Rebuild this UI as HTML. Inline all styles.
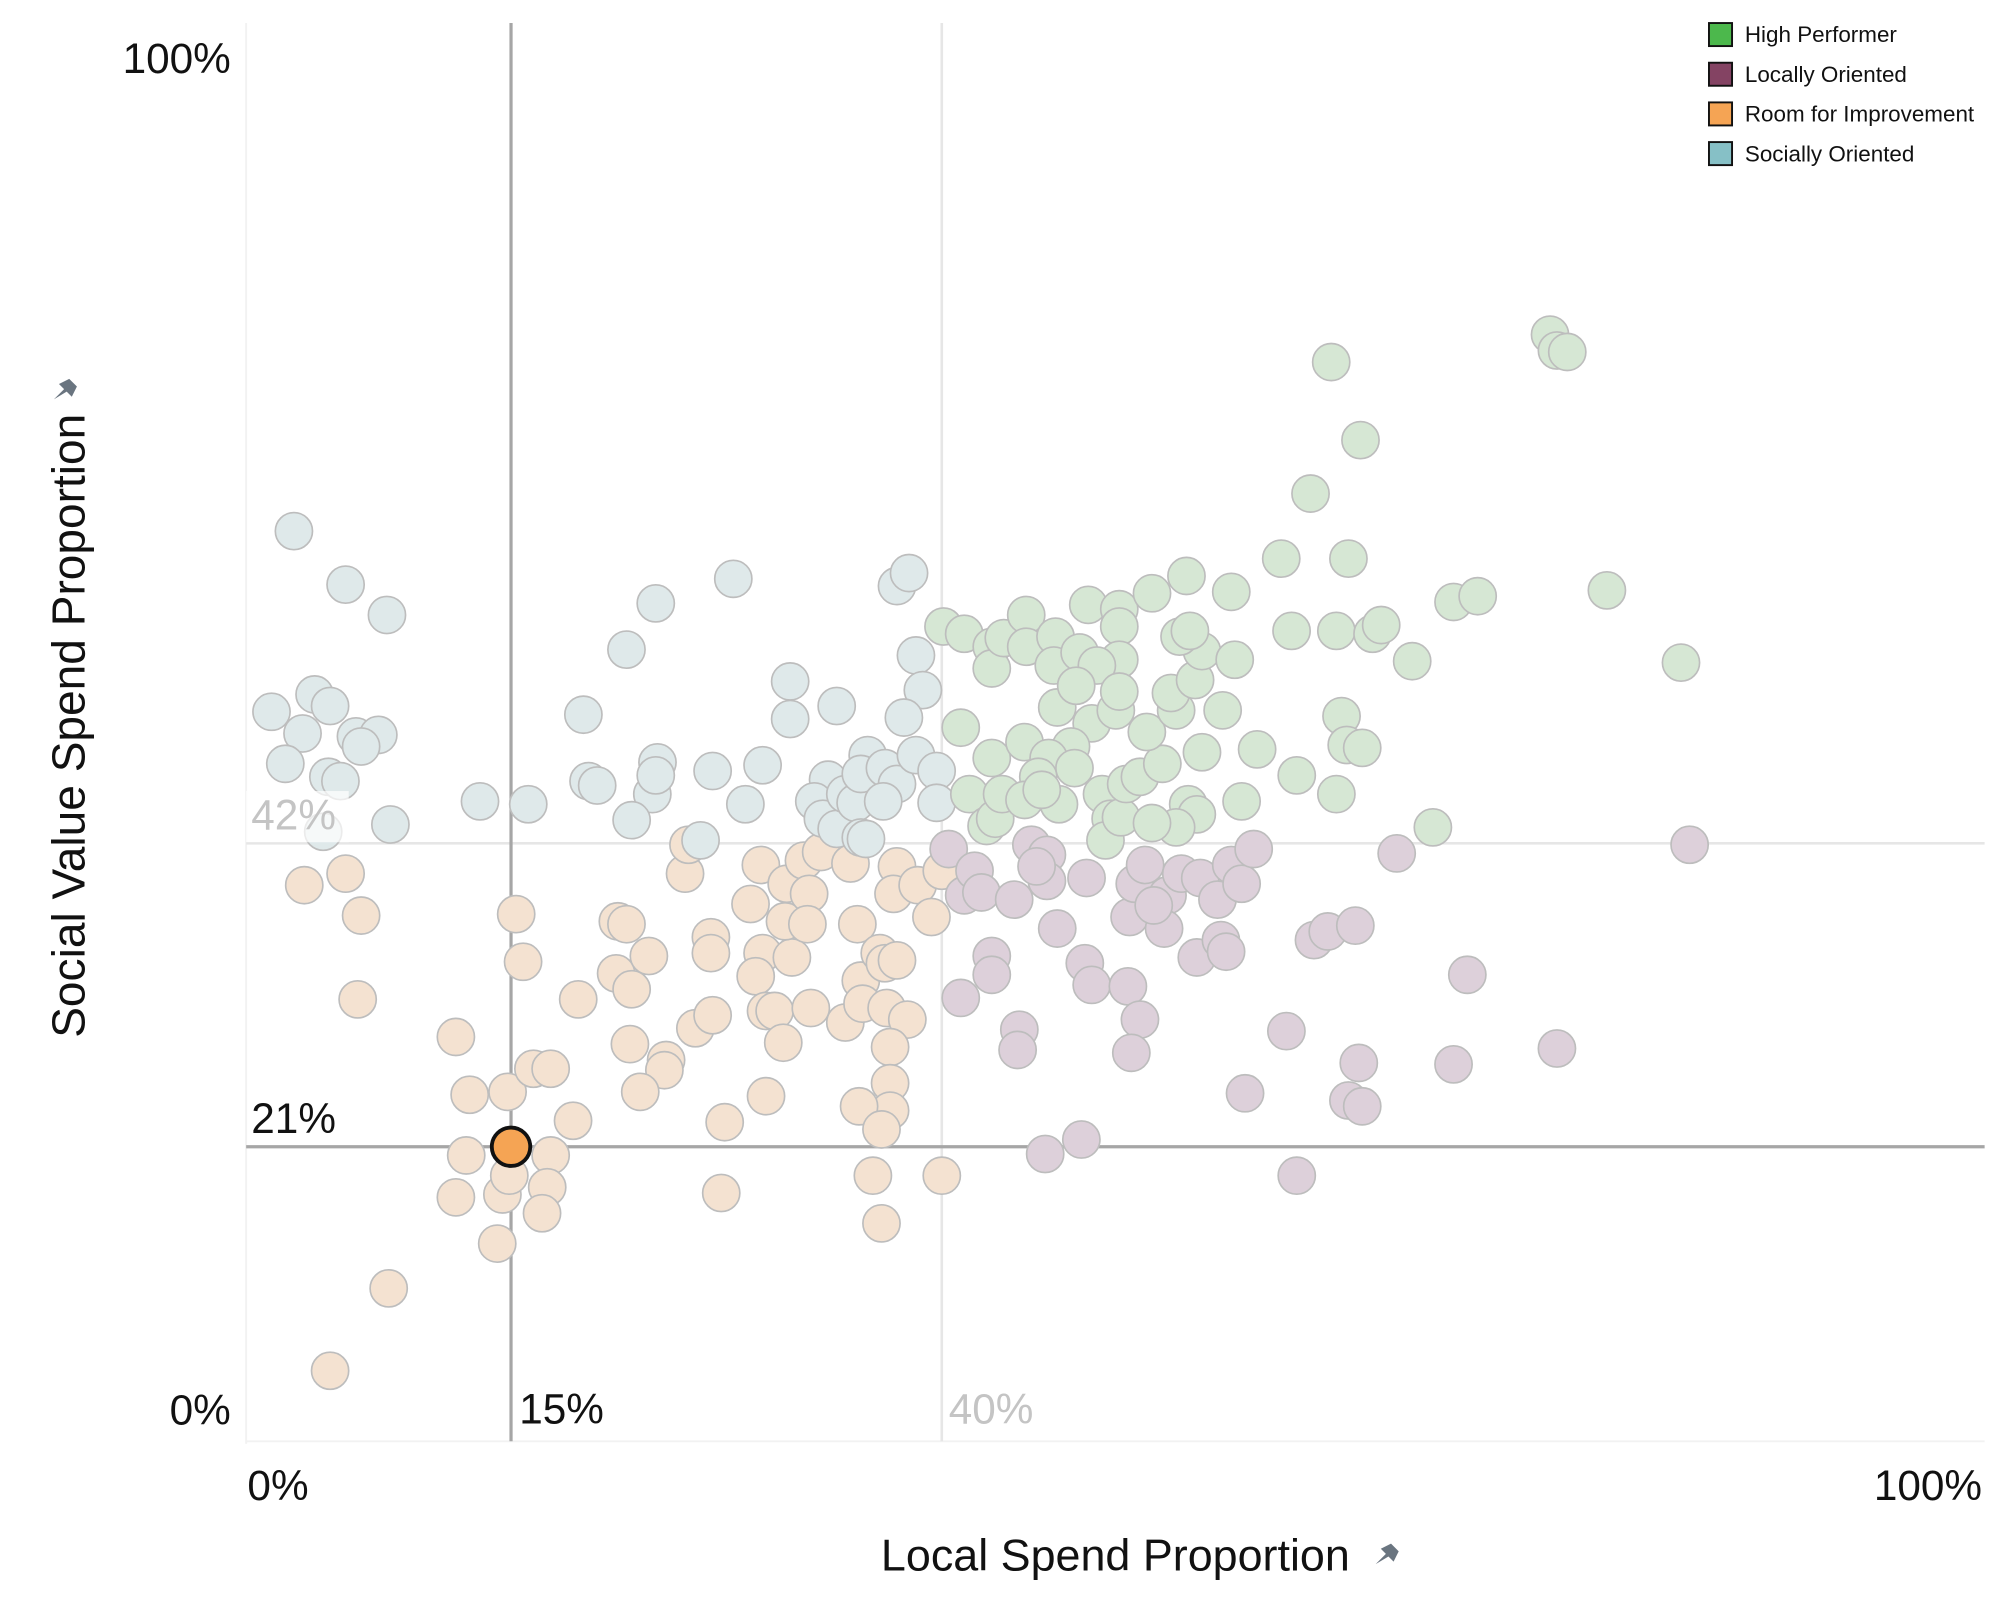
<!DOCTYPE html>
<html><head><meta charset="utf-8"><style>
html,body{margin:0;padding:0;background:#fff;width:2000px;height:1600px;overflow:hidden}
svg{display:block;font-family:"Liberation Sans",sans-serif}
</style></head><body>
<svg id="chart" width="2000" height="1600" viewBox="0 0 1560 1250" preserveAspectRatio="none" xmlns="http://www.w3.org/2000/svg">
<g id="grid"></g>
<g id="points"></g>
<g id="labels"></g>
<text x="870" y="1227" font-size="35" text-anchor="middle" fill="#111">Local Spend Proportion</text>
<path d="M1073 1222 l8 -8 l-4 -4 l8 -4 l6 6 l-4 8 l-4 -4 z" fill="#6a7580"/>
<text transform="translate(66,567) rotate(-90)" font-size="36" text-anchor="middle" fill="#111">Social Value Spend Proportion</text>
<path d="M42 312 l8 -8 l-4 -4 l8 -4 l6 6 l-4 8 l-4 -4 z" fill="#6a7580"/>
<g font-size="17.5" fill="#111">
 <rect x="1333" y="18" width="18" height="18" fill="#4cb84c" stroke="#111" stroke-width="1.5"/>
 <text x="1361" y="33">High Performer</text>
 <rect x="1333" y="49" width="18" height="18" fill="#844363" stroke="#111" stroke-width="1.5"/>
 <text x="1361" y="64">Locally Oriented</text>
 <rect x="1333" y="80" width="18" height="18" fill="#f5a454" stroke="#111" stroke-width="1.5"/>
 <text x="1361" y="95">Room for Improvement</text>
 <rect x="1333" y="111" width="18" height="18" fill="#86c0c6" stroke="#111" stroke-width="1.5"/>
 <text x="1361" y="126">Socially Oriented</text>
</g>
</svg>
<script>
const xThreshold = 15, yThreshold = 21, xMean = 40, yMean = 42;
const highlightX = 15, highlightY = 21;
const socialX = [2.4,5.4,7.8,1.1,3.6,4.5,2.9,6.0,7.3,6.3,1.9,4.4,5.1,4.1,8.0,13.2,16.0,19.2,19.5,20.0,21.7,23.4,23.2,23.5,23.4,22.0,27.9,26.7,28.6,29.6,31.2,31.2,33.9,33.4,32.6,33.1,33.9,34.4,35.0,35.7,35.3,36.7,37.4,37.4,38.1,38.5,38.9,37.8,38.5,39.7,39.7,36.6,35.3,26.0,35.6];
const socialY = [63.6,59.9,57.8,51.1,52.3,51.5,49.6,49.4,49.5,48.7,47.5,46.6,46.3,42.8,43.3,44.9,44.7,50.9,46.3,46.0,55.4,58.6,45.4,47.6,46.7,43.6,60.3,47.0,44.7,47.4,53.2,50.6,51.5,46.4,44.9,43.7,43.0,45.4,44.8,48.1,46.8,47.2,46.1,59.8,60.7,55.0,52.6,50.7,48.1,47.0,44.8,44.9,42.4,42.2,42.3];
const roomX = [3.0,5.4,6.3,6.1,7.9,4.5,11.8,12.6,12.4,11.8,14.2,14.5,14.8,15.3,15.7,16.3,17.3,17.3,17.1,16.8,14.9,18.6,18.9,21.2,21.7,21.1,22.0,23.0,21.9,24.0,23.9,22.5,25.1,25.3,25.7,26.7,26.6,26.6,27.4,27.2,28.9,29.5,29.6,29.2,29.8,30.3,31.3,30.9,31.0,32.0,32.3,32.2,32.4,30.8,29.8,33.0,34.4,34.7,35.1,35.3,35.4,36.4,36.7,36.8,37.4,37.2,38.0,38.6,39.4,40.0,37.0,37.0,37.0,35.2,36.5,36.0,36.5,40.0,37.4];
const roomY = [39.1,39.9,37.0,31.2,11.2,5.5,28.6,24.6,20.4,17.5,14.3,17.7,24.8,37.1,33.8,26.4,26.4,20.4,18.2,16.4,19.0,22.8,31.2,36.6,36.4,33.0,31.9,34.2,28.1,27.0,26.3,24.8,39.9,41.9,29.2,30.1,35.5,34.4,22.7,17.8,37.8,40.5,34.4,32.8,30.4,30.4,34.1,36.6,39.2,40.8,38.5,36.4,30.6,28.2,24.5,41.4,29.6,40.6,36.4,32.5,30.9,34.4,33.7,30.6,40.4,38.5,29.8,39.1,36.9,40.1,27.9,25.4,23.5,23.8,22.2,19.0,15.7,19.0,33.9];
const localX = [40.4,41.3,41.9,42.3,41.1,42.9,42.9,44.2,45.2,46.1,46.1,45.5,46.7,48.4,48.3,48.7,44.5,44.4,46.0,48.1,50.8,51.5,51.0,50.9,51.2,51.8,53.1,52.9,52.3,53.9,55.0,54.8,56.2,56.5,56.0,56.8,57.4,58.1,60.0,57.6,60.6,61.6,62.4,64.0,64.2,63.6,64.4,66.4,69.7,70.5,75.7,83.4];
const localY = [41.6,38.4,40.1,38.6,31.3,34.2,32.9,38.1,41.9,41.2,39.4,40.4,36.1,39.6,33.7,32.2,29.1,27.7,20.5,21.5,32.1,29.8,27.5,36.9,39.2,40.5,38.4,36.1,37.7,39.9,39.6,34.1,35.3,34.5,38.1,40.5,39.2,41.6,29.0,24.7,19.0,35.3,35.9,36.3,26.8,24.2,23.8,41.3,26.7,32.9,27.8,41.9];
const highX = [40.1,41.3,41.1,41.6,42.9,42.9,42.9,43.6,44.8,44.9,44.9,46.6,46.5,48.0,48.5,50.3,50.3,50.3,49.0,46.7,47.8,48.7,47.5,46.2,45.6,47.7,49.3,49.8,49.5,50.4,50.7,51.5,52.8,51.9,53.6,53.3,54.7,55.1,53.8,54.4,54.2,52.2,50.1,50.3,56.8,57.0,56.3,55.1,54.3,54.8,53.6,52.2,57.4,58.3,59.7,60.3,61.4,62.6,64.3,63.6,62.9,65.0,65.5,63.2,63.5,64.4,60.6,62.9,67.3,68.5,69.7,71.1,75.3,75.7,76.3,78.6,82.9,42.6,43.1,43.5,44.8,46.8,45.8];
const highY = [57.0,56.5,50.0,45.4,55.6,54.1,47.9,56.2,49.0,57.8,55.6,56.3,54.3,55.2,58.5,58.2,57.0,54.7,54.3,51.4,52.9,50.3,48.7,47.9,46.6,47.2,45.4,43.7,42.2,43.8,46.1,46.6,47.5,49.7,51.2,52.4,53.3,55.3,56.3,56.7,60.5,59.3,51.2,52.5,59.4,54.7,51.2,48.3,44.7,44.0,43.1,43.4,44.9,48.5,61.7,56.7,66.2,75.3,69.9,61.7,56.7,56.5,57.1,50.8,48.8,48.6,46.7,45.4,54.6,43.1,58.7,59.1,77.2,76.1,76.0,59.5,54.5,43.2,43.7,45.4,45.0,44.7,45.7];

const X0 = 197, XS = 13.44, Y0 = 1133, YS = 11.29;
function xPos(v){ return X0 + v * XS; }
function yPos(v){ return Y0 - v * YS; }
const NS = "http://www.w3.org/2000/svg";
function mk(tag, attrs){ const e = document.createElementNS(NS, tag); for (const k in attrs) e.setAttribute(k, attrs[k]); return e; }

const grid = document.getElementById('grid');
let l = mk('line', {x1:192,y1:18,x2:192,y2:1128,stroke:'#f2f2f2','stroke-width':1.5});


grid.appendChild(l);
l = mk('line', {x1:192,y1:1126,x2:1548,y2:1126,stroke:'#f2f2f2','stroke-width':1.5});


grid.appendChild(l);
l = mk('line', {x1:xPos(xMean),y1:18,x2:xPos(xMean),y2:1126,stroke:'#e6e6e6','stroke-width':2});


grid.appendChild(l);
l = mk('line', {x1:192,y1:yPos(yMean),x2:1548,y2:yPos(yMean),stroke:'#e6e6e6','stroke-width':2});


grid.appendChild(l);
l = mk('line', {x1:xPos(xThreshold),y1:18,x2:xPos(xThreshold),y2:1126,stroke:'#a6a6a6','stroke-width':2.5});


grid.appendChild(l);
l = mk('line', {x1:192,y1:yPos(yThreshold),x2:1548,y2:yPos(yThreshold),stroke:'#a6a6a6','stroke-width':2.5});


grid.appendChild(l);

const pts = document.getElementById('points');
function series(xs, ys, fill, name){
  for (let i = 0; i < xs.length; i++){
    const c = mk('circle', {cx:xPos(xs[i]), cy:yPos(ys[i]), r:14.5, fill:fill, stroke:'#bdbdbd','stroke-width':1.3});
    
    
    pts.appendChild(c);
  }
}
series(roomX, roomY, '#f4e2d1', 'room-for-improvement');
series(socialX, socialY, '#dfe9ea', 'socially-oriented');
series(localX, localY, '#ddd0da', 'locally-oriented');
series(highX, highY, '#d6e7d4', 'high-performer');
const hc = mk('circle', {cx:xPos(highlightX), cy:yPos(highlightY), r:15, fill:'#f5a454', stroke:'#111','stroke-width':3});


pts.appendChild(hc);

const lab = document.getElementById('labels');
function txt(s, x, y, anchor, fill, name, bg){
  if (bg){
    const r = mk('rect', {x:x-4, y:y-30, width:80, height:40, fill:'#fff', 'fill-opacity':0.7});
    
    
    lab.appendChild(r);
  }
  const t = mk('text', {x:x, y:y, 'font-size':33, 'text-anchor':anchor, fill:fill});
  t.textContent = s;
  
  
  lab.appendChild(t);
}
txt('100%', 180, 57, 'end', '#111', 'y-tick-100');
txt('0%', 180, 1113, 'end', '#111', 'y-tick-0');
txt('0%', 193, 1172, 'start', '#111', 'x-tick-0');
txt('100%', 1546, 1172, 'end', '#111', 'x-tick-100');
txt(yMean + '%', 196, 648, 'start', '#c4c4c4', 'y-mean-label', true);
txt(xMean + '%', 740, 1112, 'start', '#c4c4c4', 'x-mean-label', true);
txt(yThreshold + '%', 196, 885, 'start', '#111', 'y-threshold-label');
txt(xThreshold + '%', 405, 1112, 'start', '#111', 'x-threshold-label');
</script>
</body></html>
